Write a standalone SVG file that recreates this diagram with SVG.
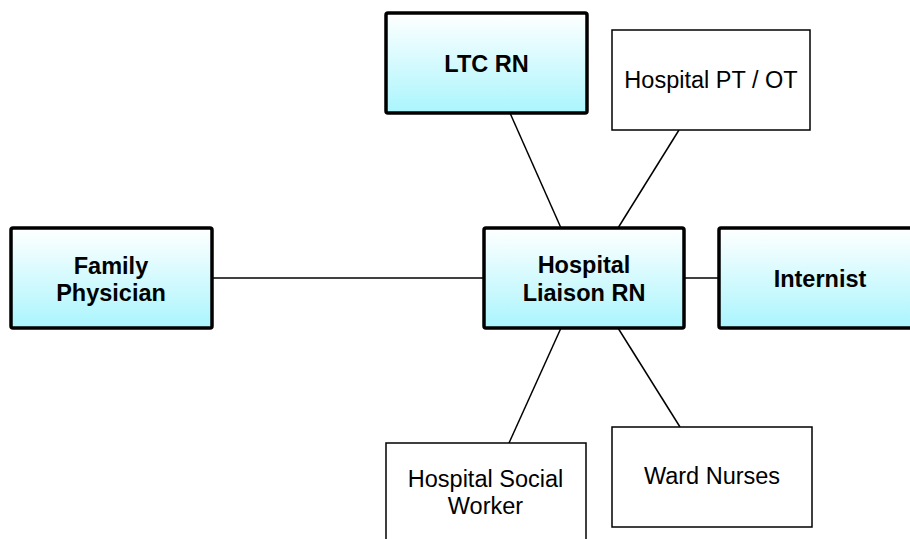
<svg xmlns="http://www.w3.org/2000/svg" width="910" height="539" viewBox="0 0 910 539">
<defs>
<linearGradient id="cy" x1="0" y1="0" x2="0" y2="1">
<stop offset="0" stop-color="#ffffff"/>
<stop offset="1" stop-color="#aaf5fd"/>
</linearGradient>
</defs>
<style>
.key{fill:url(#cy);stroke:#000;stroke-width:3.5;stroke-linejoin:round}
.plain{fill:#fff;stroke:#000;stroke-width:1.5}
.b{font-family:"Liberation Sans",Arial,sans-serif;font-weight:bold;font-size:23.5px;text-anchor:middle;fill:#000}
.r{font-family:"Liberation Sans",Arial,sans-serif;font-size:23.5px;text-anchor:middle;fill:#000}
.c{stroke:#000;stroke-width:1.5;fill:none}
</style>
<rect width="910" height="539" fill="#fff"/>
<g id="connectors">
<line class="c" x1="510" y1="113" x2="561" y2="228"/>
<line class="c" x1="679" y1="130" x2="618" y2="228"/>
<line class="c" x1="212" y1="278" x2="484" y2="278"/>
<line class="c" x1="684" y1="278" x2="719" y2="278"/>
<line class="c" x1="561" y1="328" x2="509" y2="443"/>
<line class="c" x1="618" y1="328" x2="680" y2="427"/>
</g>
<g id="ltc-rn">
<rect class="key" x="386" y="13" width="201" height="100" rx="2"/>
<text class="b" x="486.5" y="72">LTC RN</text>
</g>
<g id="hospital-pt-ot">
<rect class="plain" x="612" y="30" width="198" height="100"/>
<text class="r" x="711" y="88">Hospital PT / OT</text>
</g>
<g id="family-physician">
<rect class="key" x="11" y="228" width="201" height="100" rx="2"/>
<text class="b" x="111" y="273.5">Family</text>
<text class="b" x="111" y="301">Physician</text>
</g>
<g id="hospital-liaison-rn">
<rect class="key" x="484" y="228" width="200" height="100" rx="2"/>
<text class="b" x="584" y="273">Hospital</text>
<text class="b" x="584" y="300.5">Liaison RN</text>
</g>
<g id="internist">
<rect class="key" x="719" y="228" width="202" height="100" rx="2"/>
<text class="b" x="820" y="287">Internist</text>
</g>
<g id="hospital-social-worker">
<rect class="plain" x="386" y="443" width="200" height="100"/>
<text class="r" x="485.5" y="487">Hospital Social</text>
<text class="r" x="485.5" y="514">Worker</text>
</g>
<g id="ward-nurses">
<rect class="plain" x="612" y="427" width="200" height="100"/>
<text class="r" x="712" y="484">Ward Nurses</text>
</g>
</svg>
